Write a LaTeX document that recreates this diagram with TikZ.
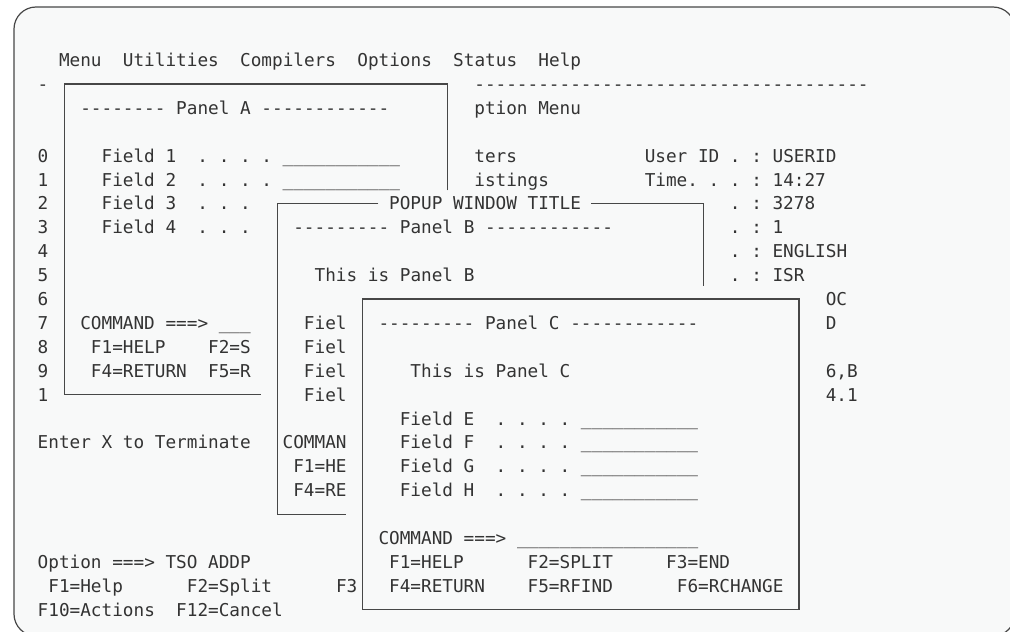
\documentclass[tikz,border=0pt]{standalone}
\usepackage{fontspec}
\setmonofont{DejaVu Sans Mono}
\definecolor{ink}{HTML}{333333}
\definecolor{rule}{HTML}{474747}
\definecolor{screen}{HTML}{F8F9F9}

\begin{document}
\begin{tikzpicture}[
        x=10.65pt, y=-23.9pt,
        every node/.style={anchor=base west, inner sep=0pt, yshift=-6.5pt, text=ink,
          font=\ttfamily\fontsize{17.7}{24}\selectfont\frenchspacing},
        frame/.style={draw=rule, line width=1.2pt, fill=screen, rounded corners=22pt},
        edge/.style={draw=rule, line width=1.2pt}
      ]

      \useasboundingbox (-3.5211,-2.5105) rectangle (91.3146,23.9331);
      \clip (-3.5211,-2.5105) rectangle (91.3146,23.9331);
      \path[frame] (-2.2066,-2.2176) rectangle (91.784,24.1);

      \node (menubar) at (2,0) {Menu~~Utilities~~Compilers~~Options~~Status~~Help};
      \node (sepdash) at (0,1) {-};
      \node (septail) at (41,1) {-------------------------------------};
      \node (optmenu) at (41,2) {ption Menu};
      \node (parms) at (41,4) {ters};
      \node (lists) at (41,5) {istings};
      \node (userid) at (57,4) {User ID . : USERID};
      \node (time) at (57,5) {Time. . . : 14:27};
      \node (term) at (65,6) {. : 3278};
      \node (pf) at (65,7) {. : 1};
      \node (lang) at (65,8) {. : ENGLISH};
      \node (appl) at (65,9) {. : ISR};
      \node (tailoc) at (74,10) {OC};
      \node (taild) at (74,11) {D};
      \node (tailb) at (74,13) {6,B};
      \node (tailver) at (74,14) {4.1};

      \node (opt0) at (0,4) {0};
      \node (opt1) at (0,5) {1};
      \node (opt2) at (0,6) {2};
      \node (opt3) at (0,7) {3};
      \node (opt4) at (0,8) {4};
      \node (opt5) at (0,9) {5};
      \node (opt6) at (0,10) {6};
      \node (opt7) at (0,11) {7};
      \node (opt8) at (0,12) {8};
      \node (opt9) at (0,13) {9};
      \node (opt10) at (0,14) {1};
      \node (enterx) at (0,16) {Enter X to Terminate};
      \node (option) at (0,21) {Option ===> TSO ADDP};
      \node (keysA) at (1,22) {F1=Help~~~~~~F2=Split~~~~~~F3};
      \node (keysB) at (0,23) {F10=Actions~~F12=Cancel};

      \draw[edge] (38.5,5.45) -- (38.5,1) -- (2.5,1) -- (2.5,14) -- (21,14);
      \node (titleA) at (4,2) {-------- Panel A ------------};
      \node (field1) at (6,4) {Field 1~~. . . .~\_\_\_\_\_\_\_\_\_\_\_};
      \node (field2) at (6,5) {Field 2~~. . . .~\_\_\_\_\_\_\_\_\_\_\_};
      \node (field3) at (6,6) {Field 3~~. . .};
      \node (field4) at (6,7) {Field 4~~. . .};
      \node (cmdA) at (4,11) {COMMAND ===> \_\_\_};
      \node (helpA) at (5,12) {F1=HELP~~~~F2=S};
      \node (retA) at (5,13) {F4=RETURN~~F5=R};

      \draw[edge] (32,6) -- (22.5,6) -- (22.5,19) -- (29,19);
      \draw[edge] (52,6) -- (62.5,6) -- (62.5,9.45);
      \node (popup) at (33,6) {POPUP WINDOW TITLE};
      \node (titleB) at (24,7) {--------- Panel B ------------};
      \node (thisB) at (26,9) {This is Panel B};
      \node (fielB1) at (25,11) {Fiel};
      \node (fielB2) at (25,12) {Fiel};
      \node (fielB3) at (25,13) {Fiel};
      \node (fielB4) at (25,14) {Fiel};
      \node (cmdB) at (23,16) {COMMAN};
      \node (helpB) at (24,17) {F1=HE};
      \node (retB) at (24,18) {F4=RE};

      \draw[edge] (30.5,10) rectangle (71.5,23);
      \node (titleC) at (32,11) {--------- Panel C ------------};
      \node (thisC) at (35,13) {This is Panel C};
      \node (fieldE) at (34,15) {Field E~~. . . .~\_\_\_\_\_\_\_\_\_\_\_};
      \node (fieldF) at (34,16) {Field F~~. . . .~\_\_\_\_\_\_\_\_\_\_\_};
      \node (fieldG) at (34,17) {Field G~~. . . .~\_\_\_\_\_\_\_\_\_\_\_};
      \node (fieldH) at (34,18) {Field H~~. . . .~\_\_\_\_\_\_\_\_\_\_\_};
      \node (cmdC) at (32,20) {COMMAND ===> \_\_\_\_\_\_\_\_\_\_\_\_\_\_\_\_\_};
      \node (helpC) at (33,21) {F1=HELP~~~~~~F2=SPLIT~~~~~F3=END};
      \node (retC) at (33,22) {F4=RETURN~~~~F5=RFIND~~~~~~F6=RCHANGE};

\end{tikzpicture}
\end{document}
